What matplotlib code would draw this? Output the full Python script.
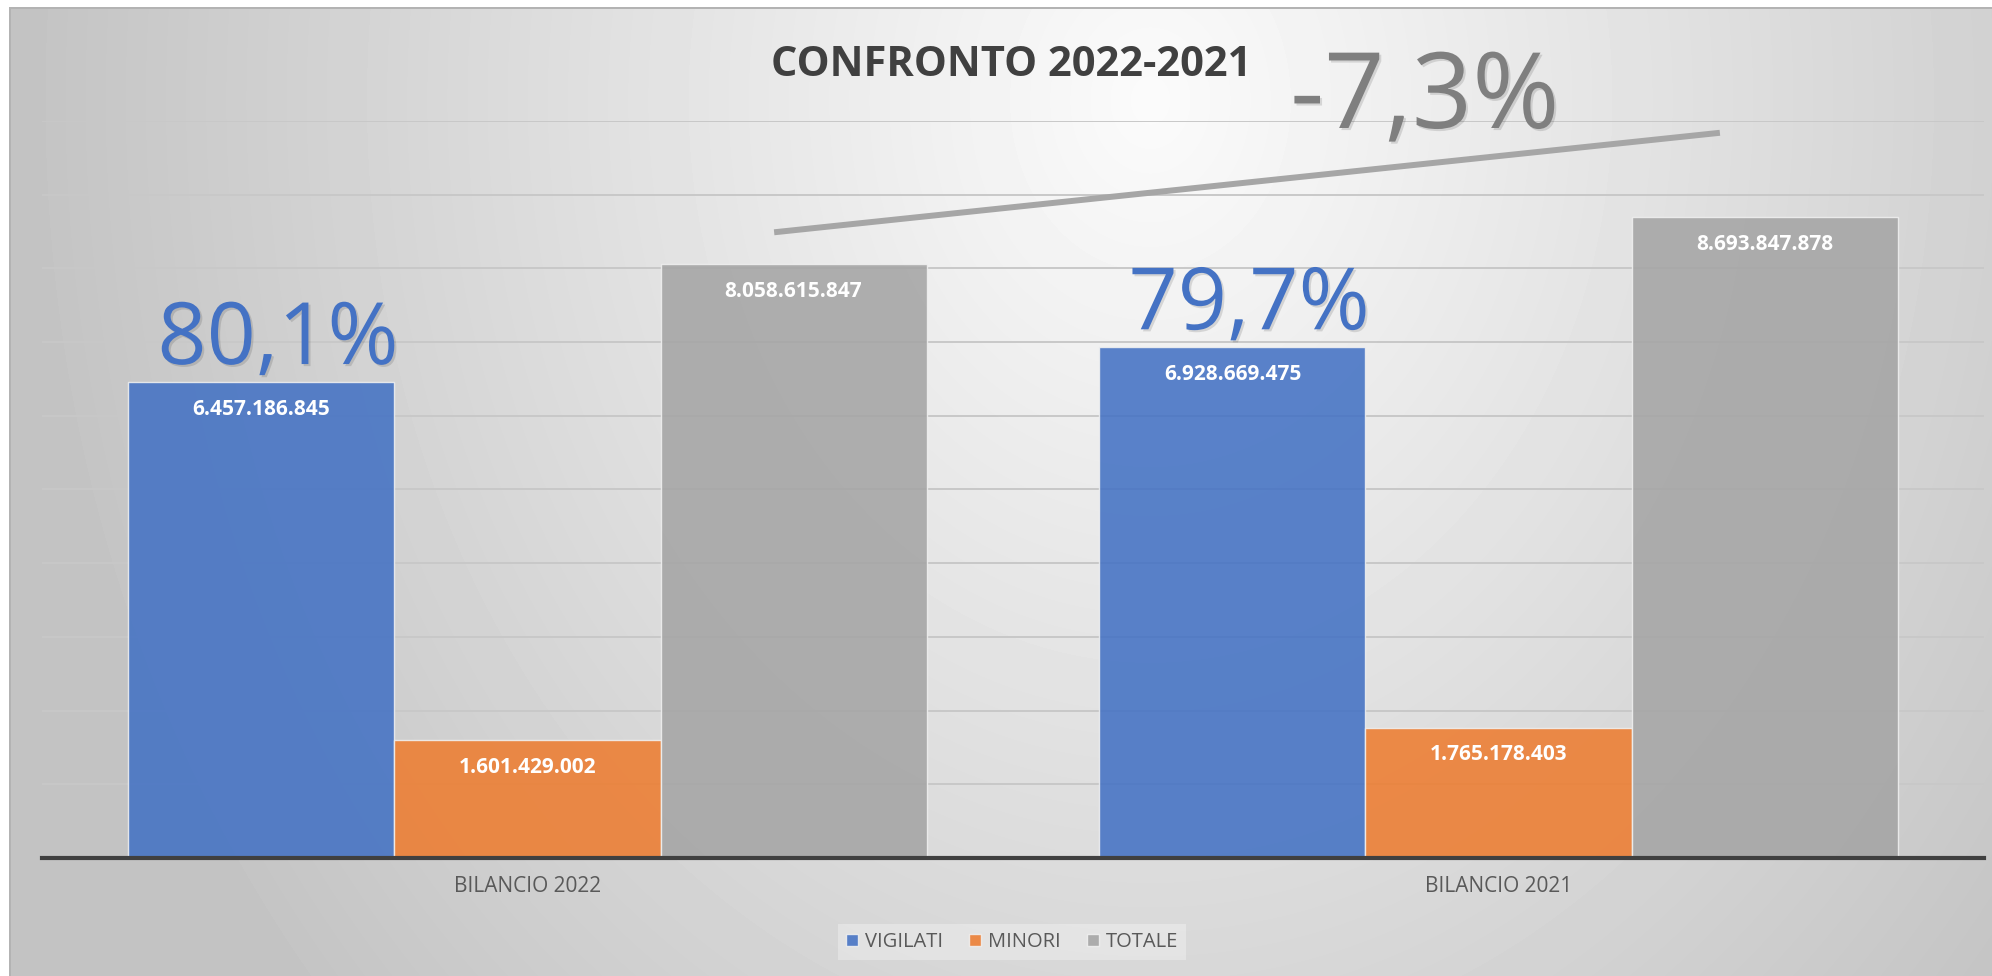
import matplotlib
matplotlib.use('agg')
import matplotlib.pyplot as plt
import matplotlib.patheffects as pe
import numpy as np

# data
categories = ['BILANCIO 2022', 'BILANCIO 2021']
series = ['VIGILATI', 'MINORI', 'TOTALE']
vigilati = [6457186845, 6928669475]
minori = [1601429002, 1765178403]
totale = [8058615847, 8693847878]
grid_ticks = [1e9 * k for k in range(1, 11)]

colors = ['#4472C4', '#ED7D31', '#A5A5A5']

plt.rcParams['font.family'] = ['Open Sans', 'DejaVu Sans']


def fmt_it(v):
    # 6457186845 -> 6.457.186.845
    return '{:,.0f}'.format(v).replace(',', '.')


def pct_it(v):
    return '{:.1f}%'.format(v).replace('.', ',')


W, H = 1992, 976
fig = plt.figure(figsize=(W / 100, H / 100), dpi=100)

# excel-like radial gradient background with a thin frame
bg = fig.add_axes([0, 0, 1, 1], zorder=0)
yy, xx = np.mgrid[0:H, 0:W]
t = np.sqrt(((xx - 1150) / 1150.0) ** 2 + ((yy - 100) / 1400.0) ** 2)
shade = np.clip(251 - 57 * t, 196, 251) / 255.0
shade[(xx < 10) | (yy < 8)] = 1.0
shade[((xx >= 9) & (xx < 11) & (yy >= 7)) | ((yy >= 7) & (yy < 9) & (xx >= 9))] = 0.70
bg.imshow(shade, cmap='gray', vmin=0, vmax=1, extent=(0, W, H, 0),
          aspect='auto', interpolation='bilinear')
bg.set_xlim(0, W)
bg.set_ylim(H, 0)
bg.axis('off')

ax = fig.add_axes([42 / W, 118 / H, 1942 / W, 737 / H], zorder=1)
ax.patch.set_alpha(0)

x = np.arange(len(categories))
w = 0.274
handles = []
for i, (name, vals) in enumerate(zip(series, [vigilati, minori, totale])):
    pos = x + (i - 1) * w
    b = ax.bar(pos, vals, width=w, color=colors[i], alpha=0.88,
               edgecolor='#f0f0f0', linewidth=1.0, label=name, zorder=2)
    handles.append(b)
    for xi, v in zip(pos, vals):
        ax.annotate(fmt_it(v), (xi, v), xytext=(0, -19.5), textcoords='offset points',
                    ha='center', va='center', color='white', fontsize=15,
                    fontweight='bold', zorder=4)

ax.set_xlim(-0.5, 1.5)
ax.set_ylim(0, 1e10)
ax.set_yticks(grid_ticks)
ax.yaxis.grid(True, color='#c8c8c8', linewidth=1.4)
ax.set_axisbelow(True)
ax.tick_params(axis='y', length=0, labelleft=False)
ax.set_xticks(x, categories)
ax.tick_params(axis='x', length=0, pad=13, labelsize=15, labelcolor='#595959')
for s in ['left', 'right', 'top']:
    ax.spines[s].set_visible(False)
ax.spines['bottom'].set_color('#404040')
ax.spines['bottom'].set_linewidth(3)
ax.spines['bottom'].set_zorder(3)

shadow = [pe.withSimplePatchShadow(offset=(1.5, -1.5), shadow_rgbFace='black', alpha=0.12)]

# share of VIGILATI on TOTALE above the blue bars
share = [v / t * 100 for v, t in zip(vigilati, totale)]
for xi, v, s in zip(x - w, vigilati, share):
    ax.annotate(pct_it(s), (xi, v), xytext=(12, 13), textcoords='offset points',
                ha='center', va='baseline', fontsize=62, color='#4472C4',
                path_effects=shadow, annotation_clip=False, zorder=5)

# change of TOTALE 2022 vs 2021
delta = (totale[0] - totale[1]) / totale[1] * 100
ax.plot([0.377, 0.864], [0.849, 0.984], transform=ax.transAxes, color='#a6a6a6',
        linewidth=4.3, clip_on=False, solid_capstyle='butt', zorder=5,
        path_effects=shadow)
ax.text(0.712, 0.9905, pct_it(delta), transform=ax.transAxes, ha='center',
        va='baseline', fontsize=76, color='#7f7f7f', path_effects=shadow, zorder=5)

fig.text(0.5075, 0.9221, 'CONFRONTO 2022-2021', ha='center', va='baseline',
         fontsize=30, fontweight='bold', color='#404040')

fig.legend(handles=handles, labels=series, loc='center', bbox_to_anchor=(0.508, 0.0348),
           ncol=3, fontsize=14.5, frameon=True, facecolor='white', framealpha=0.3,
           edgecolor='none', fancybox=False, handlelength=0.6, handleheight=0.6,
           handletextpad=0.35, columnspacing=1.3, labelcolor='#595959')

fig.savefig('out.png', dpi=100)
